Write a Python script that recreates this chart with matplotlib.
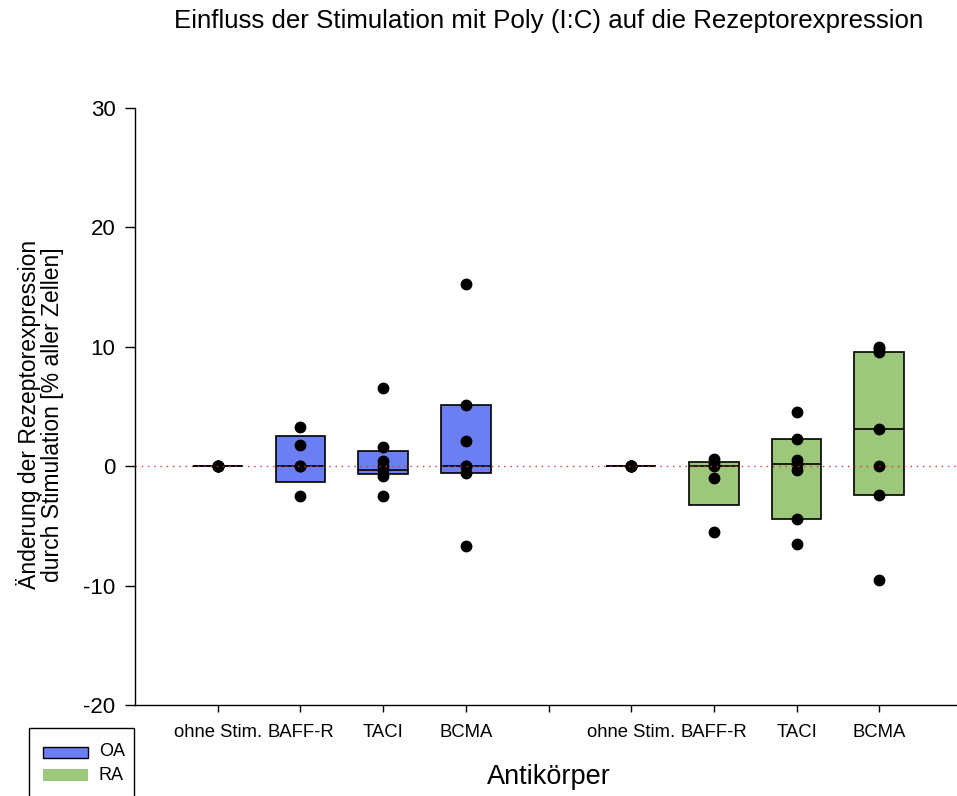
import matplotlib
matplotlib.use('Agg')
import matplotlib.pyplot as plt
from matplotlib.patches import Rectangle

plt.rcParams['font.family'] = ['Liberation Sans', 'DejaVu Sans']
plt.rcParams['axes.unicode_minus'] = False

# Antikörper je Gruppe
antibodies = ['ohne Stim.', 'BAFF-R', 'TACI', 'BCMA']
groups = ['OA', 'RA']

# Einzelwerte (Änderung in % aller Zellen)
oa_values = [
    [0, 0, 0, 0, 0, 0, 0],
    [3.3, 1.8, 0.0, 0.0, -2.5],
    [6.55, 1.6, 0.45, 0.0, -0.35, -0.8, -2.5],
    [15.3, 5.1, 2.1, 0.0, 0.0, -0.6, -6.7],
]
ra_values = [
    [0, 0, 0, 0, 0, 0, 0],
    [0.6, 0.3, 0.0, -0.95, -5.55],
    [4.5, 2.3, 0.55, 0.15, -0.3, -4.45, -6.5],
    [10.0, 9.8, 9.6, 3.1, 0.0, -2.4, -9.5],
]

# Box-Kennwerte (25. Perzentil, Median, 75. Perzentil)
oa_q1 = [0, -1.3, -0.62, -0.6]
oa_med = [0, 0.0, -0.3, 0.0]
oa_q3 = [0, 2.55, 1.27, 5.1]
ra_q1 = [0, -3.25, -4.45, -2.4]
ra_med = [0, 0.0, 0.15, 3.1]
ra_q3 = [0, 0.32, 2.3, 9.6]

oa_color = '#6b7ff2'
ra_color = '#9dc77a'

W, H = 957, 796
fig = plt.figure(figsize=(W / 100, H / 100), dpi=100)
ax = fig.add_axes([135 / W, 91 / H, 827 / W, 597 / H])

oa_pos = [1, 2, 3, 4]
ra_pos = [6, 7, 8, 9]
box_w = 0.6

for pos, vals, q1, med, q3, col in [(oa_pos, oa_values, oa_q1, oa_med, oa_q3, oa_color),
                                     (ra_pos, ra_values, ra_q1, ra_med, ra_q3, ra_color)]:
    heights = [b - a for a, b in zip(q1, q3)]
    ax.bar(pos, heights, bottom=q1, width=box_w, color=col, edgecolor='black',
           linewidth=1.2, zorder=2)
    ax.hlines(med, [p - box_w / 2 for p in pos], [p + box_w / 2 for p in pos],
              color='black', linewidth=1.2, zorder=3)
    for p, v in zip(pos, vals):
        ax.plot([p] * len(v), v, 'o', color='black', markersize=7.5, zorder=4)

ax.axhline(0, color='#e03030', linestyle=(0, (1, 3.5)), linewidth=1, zorder=5)

ax.set_xlim(0, 10)
ax.set_ylim(-20, 30)
ax.set_yticks([-20, -10, 0, 10, 20, 30])
ax.set_xticks(range(1, 10))
ax.set_xticklabels(antibodies + [''] + antibodies, fontsize=13.3)
ax.tick_params(axis='y', labelsize=16, length=7, width=1, direction='out', pad=7)
ax.tick_params(axis='x', length=5, width=1, direction='out', pad=9)
for s in ['top', 'right']:
    ax.spines[s].set_visible(False)
for s in ['left', 'bottom']:
    ax.spines[s].set_linewidth(1)

ax.set_ylabel('Änderung der Rezeptorexpression\ndurch Stimulation [% aller Zellen]',
              fontsize=16.5, labelpad=14, linespacing=1.0)
ax.yaxis.label.set_y(0.486)
ax.set_xlabel('Antikörper', fontsize=19.5, labelpad=16)
fig.text(549 / W, 1 - 21 / H,
         'Einfluss der Stimulation mit Poly (I:C) auf die Rezeptorexpression',
         ha='center', va='center', fontsize=18.6)

# Legende unten links
def fx(px):
    return px / W

def fy(py):
    return 1 - py / H

fig.patches.append(Rectangle((fx(29), fy(830)), fx(105), 102 / H, transform=fig.transFigure,
                             facecolor='white', edgecolor='black', linewidth=1))
fig.patches.append(Rectangle((fx(43), fy(758)), fx(45), 11 / H, transform=fig.transFigure,
                             facecolor=oa_color, edgecolor='black', linewidth=1))
fig.patches.append(Rectangle((fx(43), fy(781)), fx(45), 12 / H, transform=fig.transFigure,
                             facecolor=ra_color, edgecolor='none'))
fig.text(fx(99), fy(752), groups[0], va='center', ha='left', fontsize=13)
fig.text(fx(99), fy(775), groups[1], va='center', ha='left', fontsize=13)

fig.savefig('out.png', dpi=100)
